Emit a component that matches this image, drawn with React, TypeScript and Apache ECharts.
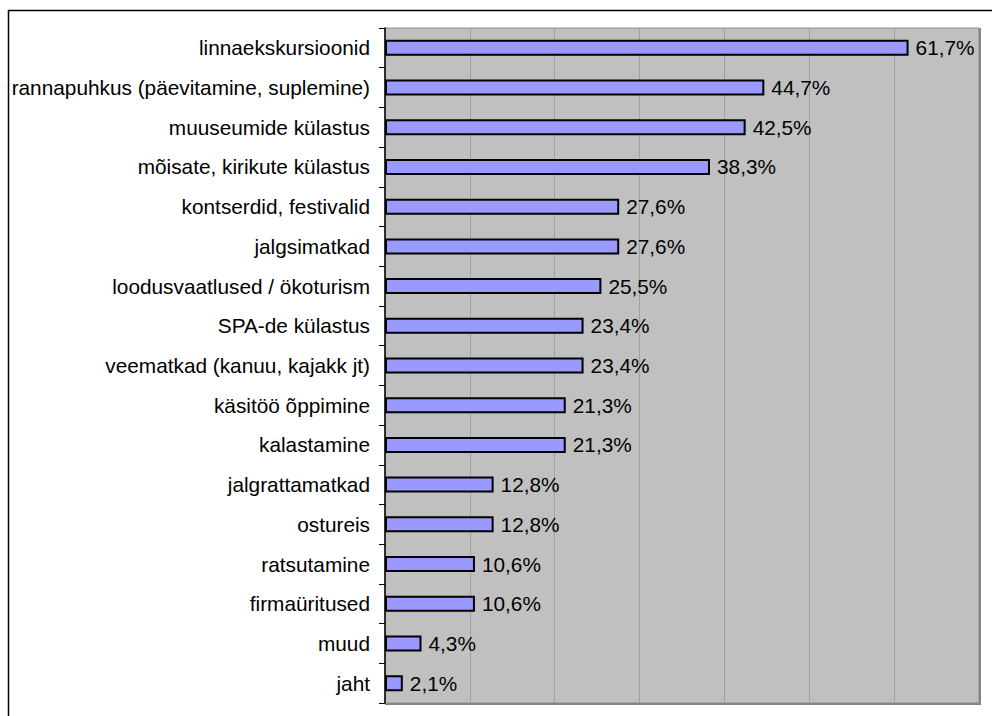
import React, { useEffect, useRef } from "react";
import * as echarts from "echarts";

const categories = [
  "linnaekskursioonid",
  "rannapuhkus (päevitamine, suplemine)",
  "muuseumide külastus",
  "mõisate, kirikute külastus",
  "kontserdid, festivalid",
  "jalgsimatkad",
  "loodusvaatlused / ökoturism",
  "SPA-de külastus",
  "veematkad (kanuu, kajakk jt)",
  "käsitöö õppimine",
  "kalastamine",
  "jalgrattamatkad",
  "ostureis",
  "ratsutamine",
  "firmaüritused",
  "muud",
  "jaht",
];

const values = [61.7, 44.7, 42.5, 38.3, 27.6, 27.6, 25.5, 23.4, 23.4, 21.3, 21.3, 12.8, 12.8, 10.6, 10.6, 4.3, 2.1];

const axisMin = 0;
const axisMax = 70;
const axisInterval = 10;

const FONT = "'Liberation Sans', Arial, Helvetica, sans-serif";

export default function App() {
  const ref = useRef<HTMLDivElement>(null);

  useEffect(() => {
    if (!ref.current) return;
    const chart = echarts.init(ref.current, undefined, { renderer: "svg" });
    const gl = 385, gt = 28, gw = 594, gh = 675;
    chart.setOption({
      animation: false,
      backgroundColor: "#ffffff",
      graphic: [
        {
          type: "rect",
          shape: { x: 8.5, y: 10.5, width: 1200, height: 1200 },
          style: { fill: "none", stroke: "#000000", lineWidth: 1.5 },
          silent: true,
          z: -10,
        },
        {
          type: "line",
          shape: { x1: gl + gw + 1, y1: gt, x2: gl + gw + 1, y2: gt + gh + 2 },
          style: { stroke: "#858585", lineWidth: 2 },
          z: 10,
        },
        {
          type: "line",
          shape: { x1: gl, y1: gt + gh + 1, x2: gl + gw + 2, y2: gt + gh + 1 },
          style: { stroke: "#858585", lineWidth: 2 },
          z: 10,
        },
      ],
      grid: {
        left: gl,
        top: gt,
        width: gw,
        height: gh,
        show: true,
        backgroundColor: "#C0C0C0",
        borderColor: "#8c8c8c",
        borderWidth: 1,
      },
      xAxis: {
        type: "value",
        min: axisMin,
        max: axisMax,
        interval: axisInterval,
        axisLabel: { show: false },
        axisLine: { show: false },
        axisTick: { show: false },
        splitLine: { show: true, lineStyle: { color: "#a0a0a0", width: 1 } },
      },
      yAxis: {
        type: "category",
        data: categories,
        inverse: true,
        axisLine: { show: true, lineStyle: { color: "#000000", width: 1.5 } },
        axisTick: { show: true, length: 6, lineStyle: { color: "#000000", width: 1 } },
        axisLabel: {
          color: "#000000",
          fontSize: 20.8,
          fontFamily: FONT,
          margin: 15,
        },
        splitLine: { show: false },
      },
      series: [
        {
          type: "bar",
          data: values,
          barWidth: 16,
          itemStyle: { color: "#9999FF", borderColor: "#000000", borderWidth: 2 },
          label: {
            show: true,
            position: "right",
            distance: 7,
            color: "#000000",
            fontSize: 20.8,
            fontFamily: FONT,
            formatter: (p: any) => p.value.toFixed(1).replace(".", ",") + "%",
          },
        },
      ],
    });
    return () => chart.dispose();
  }, []);

  return (
    <div
      ref={ref}
      style={{ position: "absolute", left: 0, top: 0, width: 992, height: 716 }}
    />
  );
}
